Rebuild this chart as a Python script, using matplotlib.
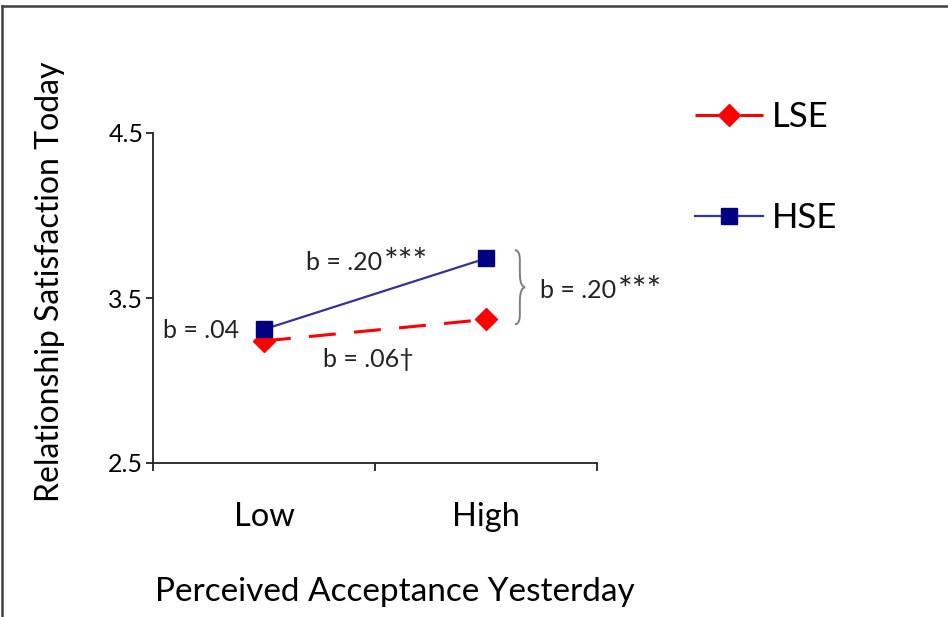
import matplotlib
matplotlib.use("Agg")
import matplotlib.pyplot as plt
from matplotlib.path import Path
from matplotlib.patches import PathPatch
from matplotlib.lines import Line2D

plt.rcParams['font.family'] = ['Lato', 'DejaVu Sans']

categories = ["Low", "High"]
lse = [3.24, 3.37]
hse = [3.31, 3.74]
series_labels = ["LSE", "HSE"]
yticks = [2.5, 3.5, 4.5]
ytick_labels = ["2.5", "3.5", "4.5"]

fig = plt.figure(figsize=(9.48, 6.17), dpi=100)
ax = fig.add_axes([153/948, 1-463/617, 444/948, 330/617])

x = list(range(len(categories)))
l1, = ax.plot(x, lse, color='#FF0000', lw=2.2, marker='D', markersize=11,
              markerfacecolor='#FF0000', markeredgecolor='#FF0000', label=series_labels[0],
              clip_on=False)
l1.set_dashes([8.8, 6])
l2, = ax.plot(x, hse, color='#333399', lw=1.6, marker='s', markersize=11.5,
              markerfacecolor='#000080', markeredgecolor='#000080', label=series_labels[1],
              clip_on=False)

ax.set_xlim(-0.5, 1.5)
ax.set_ylim(2.5, 4.5)
for s in ['top', 'right']:
    ax.spines[s].set_visible(False)
for s in ['left', 'bottom']:
    ax.spines[s].set_color('#222222')
    ax.spines[s].set_linewidth(1.3)

ax.set_yticks(yticks)
ax.set_yticklabels(ytick_labels, fontsize=18)
ax.tick_params(axis='y', direction='out', length=5, width=1.3, color='#222222', pad=2)

ax.set_xticks(x)
ax.set_xticklabels(categories, fontsize=23.5)
ax.tick_params(axis='x', which='major', length=0, pad=28)
ax.set_xticks([-0.5, 0.5, 1.5], minor=True)
ax.tick_params(axis='x', which='minor', direction='out', length=6, width=1.3, color='#222222')

fig.text(395/948, 1-592/617, "Perceived Acceptance Yesterday", fontsize=24,
         ha='center', va='center')
fig.text(50/948, 1-282/617, "Relationship Satisfaction Today", fontsize=23,
         ha='center', va='center', rotation=90)

ann = dict(fontsize=18, color='#222222')
star = dict(fontsize=25, color='#222222', ha='left', va='top',
            textcoords='offset points', xytext=(1, 3))

ax.text(x[0] - 0.11, lse[0] + 0.06, "b = .04", ha='right', va='center', **ann)
t1 = ax.text(x[0] + 0.19, hse[1] - 0.07, "b = .20", ha='left', va='baseline', **ann)
ax.annotate("***", xy=(1, 1), xycoords=t1, **star)
ax.text(x[0] + 0.47, lse[0] - 0.11, "b = .06\u2020", ha='center', va='center', **ann)

# brace
x0 = x[1] + 0.13
x1 = x[1] + 0.175
ytop = hse[1] + 0.05
ybot = lse[1] - 0.03
ym = (ytop + ybot) / 2
xm = (x0 + x1) / 2
c = 0.06
verts = [(x0, ytop), (xm, ytop), (xm, ytop - c), (xm, ytop - 2*c),
         (xm, ym + c), (xm, ym + 0.01), (x1, ym),
         (xm, ym - 0.01), (xm, ym - c), (xm, ybot + 2*c),
         (xm, ybot + c), (xm, ybot), (x0, ybot)]
codes = [Path.MOVETO, Path.CURVE3, Path.CURVE3, Path.LINETO,
         Path.CURVE4, Path.CURVE4, Path.CURVE4,
         Path.CURVE4, Path.CURVE4, Path.CURVE4,
         Path.LINETO, Path.CURVE3, Path.CURVE3]
ax.add_patch(PathPatch(Path(verts, codes), fill=False, edgecolor='#7f7f7f', lw=1.4,
                       clip_on=False))
t2 = ax.text(x1 + 0.07, ym - 0.065, "b = .20", ha='left', va='baseline', **ann)
ax.annotate("***", xy=(1, 1), xycoords=t2, **star)

leg = ax.legend(loc='upper left', bbox_to_anchor=(695/948, 1-101/617),
                bbox_transform=fig.transFigure, frameon=False, fontsize=25,
                labelspacing=2.0, handlelength=1.96, handletextpad=0.26,
                borderpad=0, borderaxespad=0)

# figure border (top and left)
fig.add_artist(Line2D([2/948, 2/948], [0, 1-6/617], transform=fig.transFigure,
                      color='#404040', lw=1.8))
fig.add_artist(Line2D([2/948, 1], [1-6/617, 1-6/617], transform=fig.transFigure,
                      color='#404040', lw=1.8))

fig.savefig("out.png", dpi=100)
